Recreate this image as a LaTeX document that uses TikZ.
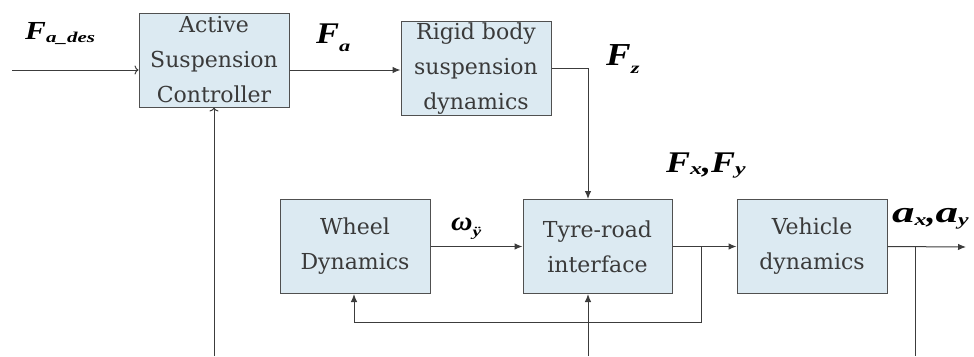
\documentclass[tikz,border=0pt]{standalone}
\usepackage{fontspec}
\setmainfont{DejaVu Serif}
\newfontfamily\symfam{Liberation Serif}
\usetikzlibrary{arrows.meta}

\definecolor{boxfill}{HTML}{DCEAF2}
\definecolor{boxline}{HTML}{505050}
\definecolor{wirecol}{HTML}{3C3C3C}
\definecolor{boxtext}{HTML}{3A3A3A}

% bold italic glyphs: \bi{size}{text}, \wbi{xscale}{size}{text}
\newcommand{\bi}[2]{{\symfam\bfseries\itshape\fontsize{#1}{#1}\selectfont #2}}
\newcommand{\wbi}[3]{\scalebox{#1}[1]{\bi{#2}{#3}}}
% subscript lowered by #1
\newcommand{\subs}[3]{\raisebox{-#1}{\wbi{1.4}{#2}{#3}}}

\begin{document}
\begin{tikzpicture}[x=1pt,y=-1pt,
  block/.style={draw=boxline, fill=boxfill, line width=1pt, inner sep=0pt,
    minimum width=150pt, minimum height=94pt, align=center,
    font=\fontsize{22}{35}\selectfont, text=boxtext},
  wire/.style={draw=wirecol, line width=1pt},
  fa/.style={-{Latex[length=8pt,width=6.5pt]}},
  oa/.style={-{To[length=4pt,width=9pt]}},
  lbl/.style={inner sep=0pt, text=black, anchor=base west}
]
\useasboundingbox (0,0) rectangle (974,356);

% blocks
\node[block] (asc) at (214,60) {Active\\Suspension\\Controller};
\node[block] (rb)  at (476,68.5) {Rigid body\\suspension\\dynamics};
\node[block] (wd)  at (355,246.5) {Wheel\\Dynamics};
\node[block, minimum width=149pt] (tr) at (597.5,246.5) {Tyre-road\\interface};
\node[block] (vd)  at (812,246.5) {Vehicle\\dynamics};

% joints and free ends
\coordinate (src) at (12,70);
\coordinate (fzc) at (588,68);
\coordinate (br1) at (701,247);
\coordinate (fb1) at (701,322);
\coordinate (fb2) at (354,322);
\coordinate (bt1) at (588,356);
\coordinate (out) at (966,247);
\coordinate (br2) at (915,247);
\coordinate (bt2) at (915,356);
\coordinate (bt0) at (214,356);

% connectors
\draw[wire,oa] (src) -- (src -| asc.west);
\draw[wire,fa] (asc.east |- src) -- (rb.west |- src);
\draw[wire,fa] (rb.east |- fzc) -- (fzc) -- (fzc |- tr.north);
\draw[wire,fa] (wd.east) -- (tr.west);
\draw[wire,fa] (tr.east) -- (vd.west);
\draw[wire,fa] (br1) -- (fb1) -- (fb2) -- (fb2 |- wd.south);
\draw[wire,fa] (bt1) -- (bt1 |- tr.south);
\draw[wire,fa] (vd.east) -- (out);
\draw[wire] (br2) -- (bt2);
\draw[wire,oa] (bt0) -- (asc.south);

% signal labels
\node[lbl] (lfades) at (25,39) {\wbi{1.2}{26}{F}\subs{3pt}{15}{a\_des}};
\node[lbl] (lfa) at (316,43) {\wbi{1.15}{30}{F}\subs{8pt}{16}{a}};
\node[lbl] (lfz) at (606,65) {\wbi{1.15}{32}{F}\subs{8pt}{16}{z}};
\node[lbl] (lw) at (451,230) {\wbi{1.1}{27}{ω}\subs{6pt}{14}{ÿ}};
\node[lbl] (lfxy) at (666,172) {\wbi{1.2}{30}{F}\subs{2pt}{17}{x}\wbi{1.2}{30}{,}\wbi{1.2}{30}{F}\subs{2pt}{17}{y}};
\node[lbl] (laxy) at (892,222) {\wbi{1.5}{30}{a}\subs{3pt}{17}{x}\wbi{1.2}{30}{,}\wbi{1.5}{30}{a}\subs{3pt}{17}{y}};
\end{tikzpicture}
\end{document}
